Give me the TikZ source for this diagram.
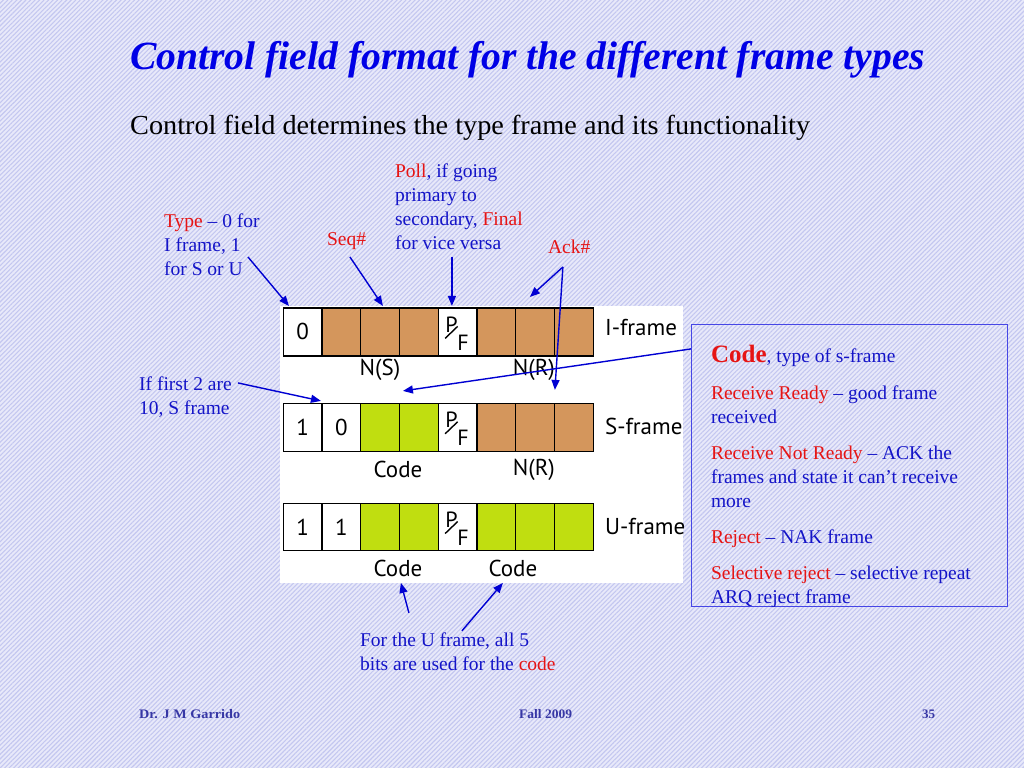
\documentclass[tikz,border=0pt]{standalone}
\usepackage{fontspec}
\setmainfont{Liberation Serif}
\newfontfamily\diag{PT Sans}
\usetikzlibrary{patterns.meta,arrows.meta}
\definecolor{bgbase}{RGB}{232,233,250}
\definecolor{bgline}{RGB}{196,199,240}
\definecolor{ttlc}{RGB}{0,0,230}
\definecolor{annc}{RGB}{20,20,200}
\definecolor{arrc}{RGB}{0,0,210}
\definecolor{hlc}{RGB}{230,20,20}
\definecolor{brn}{RGB}{212,150,92}
\definecolor{grn}{RGB}{192,222,16}
\definecolor{footc}{RGB}{55,55,165}
\definecolor{boxc}{RGB}{70,70,230}
\newcommand{\hl}[1]{\textcolor{hlc}{#1}}
\begin{document}
\begin{tikzpicture}[x=1pt,y=-1pt,
  every node/.style={inner sep=0pt},
  cell/.style={draw=black,line width=1.3pt,minimum width=38.75pt,minimum height=48pt,anchor=north west,font=\diag\fontsize{23}{23}\selectfont},
  lbl/.style={font=\diag\fontsize{23}{23}\selectfont},
  pfl/.style={font=\diag\fontsize{22}{22}\selectfont},
  ann/.style={font=\fontsize{19.5}{24}\selectfont,text=annc,align=left,anchor=north west},
  arr/.style={draw=arrc,line width=1.4pt,-{Triangle[length=10pt,width=8pt]}},
  foot/.style={font=\bfseries\fontsize{13}{13}\selectfont,text=footc,anchor=base west}]
% background
\node[fill=bgbase,minimum width=1024pt,minimum height=768pt,anchor=north west] (bg) at (0,0) {};
\fill[pattern={Lines[angle=45,distance=3.2pt,line width=1.1pt]},pattern color=bgline] (0,0) rectangle (1024,768);
\useasboundingbox (0,0) rectangle (1024,768);
% title
\node[anchor=base west,text=ttlc] (title) at (130,70)
  {\resizebox{795pt}{\height}{\fontsize{40}{40}\selectfont\bfseries\itshape Control field format for the different frame types}};
\node[anchor=base west] (sub) at (130,134.5)
  {\resizebox{680pt}{\height}{\fontsize{27.5}{27.5}\selectfont Control field determines the type frame and its functionality}};
% white panel
\node[fill=white,minimum width=403pt,minimum height=277pt,anchor=north west] (panel) at (280,306) {};
% rows
\foreach \f/\t [count=\k from 0] in {white/0,brn/{},brn/{},brn/{},white/{},brn/{},brn/{},brn/{}}
  \node[cell,fill=\f] (i\k) at (282.7+\k*38.75,307.3) {\t};
\foreach \f/\t [count=\k from 0] in {white/1,white/0,grn/{},grn/{},white/{},brn/{},brn/{},brn/{}}
  \node[cell,fill=\f] (s\k) at (282.7+\k*38.75,402.7) {\t};
\foreach \f/\t [count=\k from 0] in {white/1,white/1,grn/{},grn/{},white/{},grn/{},grn/{},grn/{}}
  \node[cell,fill=\f,minimum height=47pt] (u\k) at (282.7+\k*38.75,503) {\t};
\foreach \r in {i,s,u}{
  \node[pfl] (\r P) at ([shift={(-6,-7.5)}]\r4.center) {P};
  \node[pfl] (\r F) at ([shift={(5.5,10.5)}]\r4.center) {F};
  \draw[line width=1.4pt] ([shift={(-12.5,6.5)}]\r4.center) -- ([shift={(0,-5.5)}]\r4.center);
}
\node[lbl,anchor=west] (il) at (605,328) {I-frame};
\node[lbl,anchor=west] (sl) at (605,426.7) {S-frame};
\node[lbl,anchor=west] (ul) at (605,526.7) {U-frame};
\node[lbl] (ns) at (380,370) {N(S)};
\node[lbl] (nr1) at (534,370) {N(R)};
\node[lbl] (sc) at (398,470) {Code};
\node[lbl] (nr2) at (534,470) {N(R)};
\node[lbl] (uc1) at (398,569) {Code};
\node[lbl] (uc2) at (513,569) {Code};
% annotations
\node[ann] (type) at (164,214) {\hl{Type} -- 0 for\\I frame, 1\\for S or U};
\node[ann,anchor=base west] (seq) at (327,246) {\hl{Seq\#}};
\node[ann] (poll) at (395,164) {\hl{Poll}, if going\\primary to\\secondary, \hl{Final}\\for vice versa};
\node[ann,anchor=base west] (ack) at (548,254) {\hl{Ack\#}};
\node[ann] (iff) at (139,377) {If first 2 are\\10, S frame};
\node[ann] (ufr) at (360,633) {For the U frame, all 5\\bits are used for the \hl{code}};
% code box
\node[draw=boxc,line width=1.5pt,minimum width=315.7pt,minimum height=282pt,anchor=north west] (cbox) at (691,324) {};
\node[ann,anchor=base west] (c1) at (711,363) {\textcolor{hlc}{\bfseries\fontsize{25}{25}\selectfont Code}, type of s-frame};
\node[ann] (c2) at (711,385.5) {\hl{Receive Ready} -- good frame\\received};
\node[ann] (c3) at (711,445.5) {\hl{Receive Not Ready} -- ACK the\\frames and state it can't receive\\more};
\node[ann] (c4) at (711,529.5) {\hl{Reject} -- NAK frame};
\node[ann] (c5) at (711,565.5) {\hl{Selective reject} -- selective repeat\\ARQ reject frame};
% arrow coordinates
\coordinate (tA) at (248,257); \coordinate (tB) at (289,306);
\coordinate (qA) at (350,257); \coordinate (qB) at (383,306);
\coordinate (pA) at (452,257); \coordinate (pB) at (452,306);
\coordinate (aA) at (563,267); \coordinate (aB) at (530,297); \coordinate (aC) at (555,390);
\coordinate (fA) at (238,383); \coordinate (fB) at (321,401);
\coordinate (cA) at (cbox.west |- 0,349); \coordinate (cB) at (403,391);
\coordinate (bA) at (409,613); \coordinate (bB) at (401,583);
\coordinate (dA) at (462,631); \coordinate (dB) at (503,583);
\draw[arr] (tA) -- (tB);
\draw[arr] (qA) -- (qB);
\draw[arr] (pA) -- (pB);
\draw[arr] (aA) -- (aB);
\draw[arr] (aA) -- (aC);
\draw[arr] (fA) -- (fB);
\draw[arr] (cA) -- (cB);
\draw[arr] (bA) -- (bB);
\draw[arr] (dA) -- (dB);
% footer
\node[foot] (f1) at (139,718.5) {\resizebox{101pt}{\height}{Dr. J M Garrido}};
\node[foot] (f2) at (519,718.5) {\resizebox{53pt}{\height}{Fall 2009}};
\node[foot] (f3) at (922,718.5) {\resizebox{13pt}{\height}{35}};
\end{tikzpicture}
\end{document}
